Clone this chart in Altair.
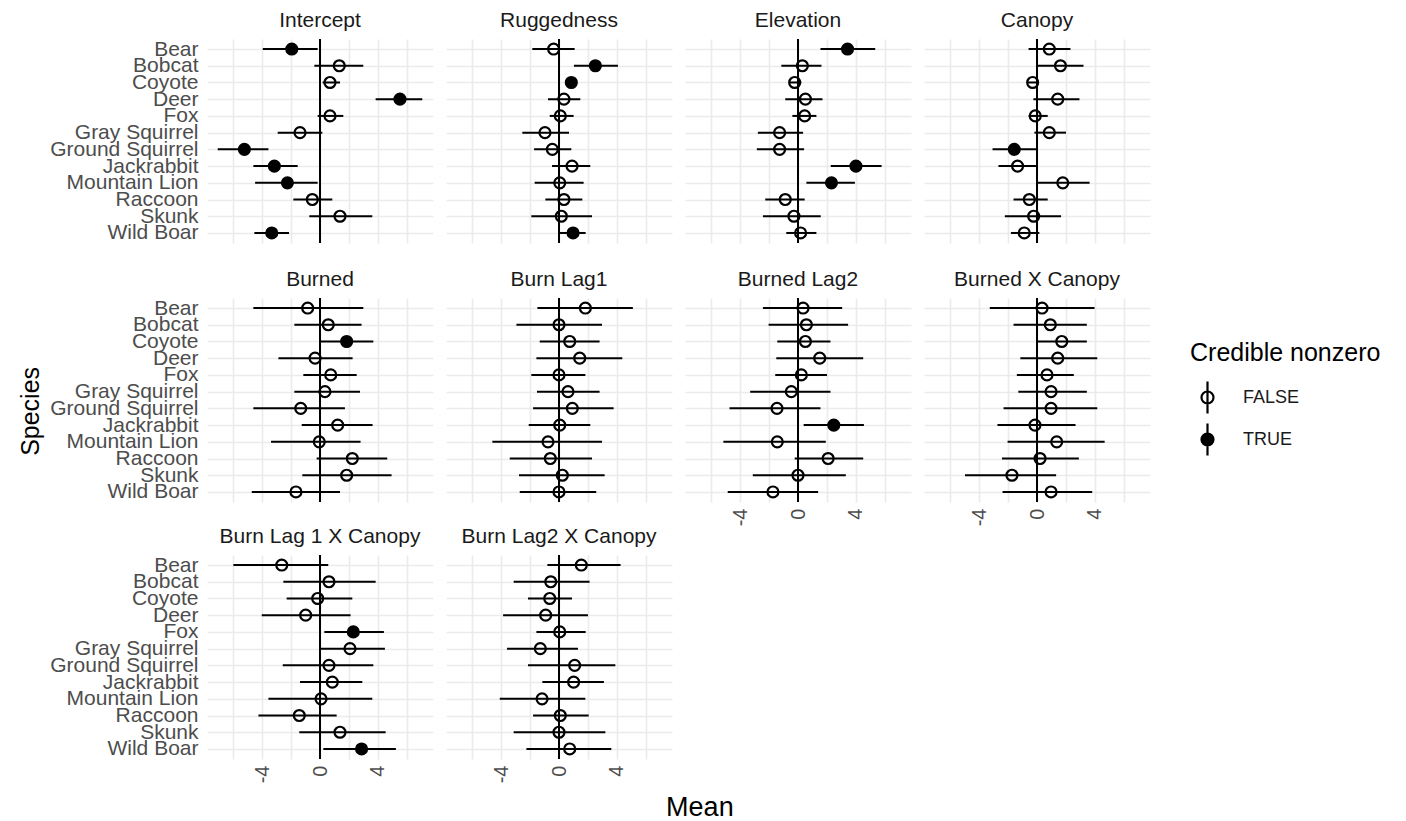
import altair as alt
import pandas as pd

SPECIES = ["Bear", "Bobcat", "Coyote", "Deer", "Fox", "Gray Squirrel", "Ground Squirrel",
           "Jackrabbit", "Mountain Lion", "Raccoon", "Skunk", "Wild Boar"]

TERMS = ["Intercept", "Ruggedness", "Elevation", "Canopy", "Burned", "Burn Lag1",
         "Burned Lag2", "Burned X Canopy", "Burn Lag 1 X Canopy", "Burn Lag2 X Canopy"]

# mean, lower, upper per term (order follows SPECIES)
INTERCEPT_MEAN = [-1.95, 1.33, 0.69, 5.52, 0.69, -1.38, -5.22, -3.15, -2.25, -0.53, 1.38, -3.33]
INTERCEPT_LO = [-3.95, -0.39, 0.18, 3.84, -0.16, -2.92, -7.06, -4.60, -4.48, -1.84, -0.74, -4.53]
INTERCEPT_HI = [-0.16, 2.99, 1.38, 7.06, 1.61, 0.16, -3.56, -1.54, -0.16, 0.85, 3.61, -2.14]

RUGGED_MEAN = [-0.37, 2.51, 0.85, 0.34, 0.09, -0.97, -0.46, 0.90, 0.05, 0.34, 0.16, 0.97]
RUGGED_LO = [-1.84, 1.03, 0.62, -0.76, -0.64, -2.53, -1.72, -0.48, -1.68, -0.94, -1.91, 0.05]
RUGGED_HI = [1.08, 4.07, 1.08, 1.47, 1.01, 0.69, 0.85, 2.16, 1.70, 1.61, 2.28, 1.84]

ELEV_MEAN = [3.42, 0.30, -0.23, 0.51, 0.46, -1.27, -1.27, 4.00, 2.31, -0.88, -0.28, 0.18]
ELEV_LO = [1.55, -1.15, -0.58, -0.88, -0.39, -2.77, -2.84, 2.26, 0.58, -2.26, -2.42, -0.81]
ELEV_HI = [5.33, 1.62, 0.23, 1.69, 1.27, 0.35, 0.42, 5.77, 3.93, 0.46, 1.57, 1.27]

CANOPY_MEAN = [0.85, 1.62, -0.30, 1.43, -0.12, 0.85, -1.57, -1.34, 1.78, -0.53, -0.23, -0.88]
CANOPY_LO = [-0.58, -0.02, -0.65, -0.25, -0.58, -0.18, -3.07, -2.66, -0.02, -1.62, -2.22, -1.80]
CANOPY_HI = [2.31, 3.21, 0.09, 2.93, 0.74, 2.00, -0.05, 0.03, 3.63, 0.74, 1.66, 0.16]

BURNED_MEAN = [-0.85, 0.57, 1.84, -0.34, 0.74, 0.34, -1.33, 1.22, -0.05, 2.23, 1.84, -1.66]
BURNED_LO = [-4.60, -1.77, 0.04, -2.87, -1.15, -1.77, -4.60, -1.26, -3.38, -0.23, -1.22, -4.71]
BURNED_HI = [2.99, 2.87, 3.68, 2.25, 2.53, 2.76, 1.72, 3.63, 2.80, 4.64, 4.94, 1.38]

LAG1_MEAN = [1.82, 0.00, 0.74, 1.43, 0.00, 0.62, 0.92, 0.05, -0.76, -0.60, 0.23, 0.00]
LAG1_LO = [-1.49, -2.94, -1.33, -1.56, -1.91, -1.52, -1.79, -2.09, -4.60, -3.40, -2.76, -2.71]
LAG1_HI = [5.10, 2.97, 2.80, 4.37, 1.82, 2.80, 3.77, 2.16, 2.97, 2.28, 3.15, 2.57]

LAG2_MEAN = [0.35, 0.58, 0.51, 1.50, 0.23, -0.46, -1.45, 2.47, -1.43, 2.08, 0.00, -1.73]
LAG2_LO = [-2.42, -2.03, -1.43, -1.50, -1.57, -3.30, -4.73, 0.39, -5.15, -0.23, -3.12, -4.85]
LAG2_HI = [3.05, 3.46, 2.24, 4.50, 2.00, 2.24, 1.55, 4.55, 1.92, 4.50, 3.30, 1.39]

BXC_MEAN = [0.35, 0.92, 1.71, 1.43, 0.69, 0.97, 0.97, -0.14, 1.36, 0.21, -1.73, 0.97]
BXC_LO = [-3.26, -1.62, -0.02, -1.15, -1.39, -1.29, -2.31, -2.73, -2.03, -2.42, -4.97, -2.38]
BXC_HI = [3.97, 3.44, 3.44, 4.16, 2.54, 3.44, 4.16, 2.66, 4.67, 2.89, 1.32, 3.81]

L1XC_MEAN = [-2.64, 0.62, -0.16, -0.99, 2.30, 2.07, 0.62, 0.85, 0.07, -1.43, 1.38, 2.87]
L1XC_LO = [-5.98, -2.53, -2.30, -4.02, 0.30, -0.07, -2.57, -1.38, -3.56, -4.25, -1.43, 0.23]
L1XC_HI = [0.57, 3.84, 2.23, 2.11, 4.41, 4.48, 3.68, 2.92, 3.61, 1.15, 4.53, 5.24]

L2XC_MEAN = [1.54, -0.57, -0.64, -0.92, 0.05, -1.29, 1.08, 1.01, -1.17, 0.09, 0.00, 0.74]
L2XC_LO = [-0.80, -3.13, -2.14, -3.86, -1.56, -3.59, -2.14, -1.15, -4.09, -1.79, -3.13, -2.25]
L2XC_HI = [4.25, 2.11, 0.90, 2.00, 1.84, 1.31, 3.89, 3.10, 1.82, 2.05, 3.20, 3.61]

# species whose interval is credibly nonzero, per term
CREDIBLE = {
    "Intercept": ["Bear", "Deer", "Ground Squirrel", "Jackrabbit", "Mountain Lion", "Wild Boar"],
    "Ruggedness": ["Bobcat", "Coyote", "Wild Boar"],
    "Elevation": ["Bear", "Jackrabbit", "Mountain Lion"],
    "Canopy": ["Ground Squirrel"],
    "Burned": ["Coyote"],
    "Burn Lag1": [],
    "Burned Lag2": ["Jackrabbit"],
    "Burned X Canopy": [],
    "Burn Lag 1 X Canopy": ["Fox", "Wild Boar"],
    "Burn Lag2 X Canopy": [],
}

SERIES = {
    "Intercept": (INTERCEPT_MEAN, INTERCEPT_LO, INTERCEPT_HI),
    "Ruggedness": (RUGGED_MEAN, RUGGED_LO, RUGGED_HI),
    "Elevation": (ELEV_MEAN, ELEV_LO, ELEV_HI),
    "Canopy": (CANOPY_MEAN, CANOPY_LO, CANOPY_HI),
    "Burned": (BURNED_MEAN, BURNED_LO, BURNED_HI),
    "Burn Lag1": (LAG1_MEAN, LAG1_LO, LAG1_HI),
    "Burned Lag2": (LAG2_MEAN, LAG2_LO, LAG2_HI),
    "Burned X Canopy": (BXC_MEAN, BXC_LO, BXC_HI),
    "Burn Lag 1 X Canopy": (L1XC_MEAN, L1XC_LO, L1XC_HI),
    "Burn Lag2 X Canopy": (L2XC_MEAN, L2XC_LO, L2XC_HI),
}

rows = []
for term in TERMS:
    m, lo, hi = SERIES[term]
    for i, sp in enumerate(SPECIES):
        rows.append({
            "term": term, "species": sp, "mean": m[i], "lo": lo[i], "hi": hi[i],
            "cred": "TRUE" if sp in CREDIBLE[term] else "FALSE",
        })
df = pd.DataFrame(rows)

FONT = "Liberation Sans"
GRID_VALUES = [-6, -4, -2, 0, 2, 4, 6]
X_DOMAIN = [-7.8, 7.8]
PANEL_W, PANEL_H = 226, 204
LEGEND_PATH = "M0,-1L0,1M-0.375,0A0.375,0.375 0 1,0 0.375,0A0.375,0.375 0 1,0 -0.375,0Z"


def x_axis(show_labels):
    kw = dict(values=GRID_VALUES, title=None, ticks=False, domain=False, grid=True,
              gridColor="#EBEBEB", gridWidth=1.6, gridOpacity=1)
    if show_labels:
        kw.update(labels=True, labelAngle=270, labelFontSize=20, labelColor="#4D4D4D",
                  labelPadding=6, labelFont=FONT,
                  labelExpr="datum.value % 4 == 0 ? toString(datum.value) : ''")
    else:
        kw.update(labels=False)
    return alt.Axis(**kw)


def y_axis(show_labels):
    kw = dict(title=None, ticks=False, domain=False, grid=True, gridColor="#EBEBEB",
              gridWidth=1.6, gridOpacity=1)
    if show_labels:
        kw.update(labels=True, labelFontSize=21, labelColor="#4D4D4D", labelPadding=9,
                  labelFont=FONT)
    else:
        kw.update(labels=False)
    return alt.Axis(**kw)


def panel(term, left, bottom):
    xs = alt.Scale(domain=X_DOMAIN, nice=False, zero=False)
    ys = alt.Scale(type="point", padding=0.6, domain=SPECIES)
    base = alt.Chart(df).transform_filter(alt.datum.term == term)

    zero = base.transform_filter(alt.datum.species == "Bear").transform_calculate(
        zero="0"
    ).mark_rule(color="black", strokeWidth=2).encode(
        x=alt.X("zero:Q", scale=xs, axis=x_axis(bottom)),
    )
    bars = base.mark_rule(color="black", strokeWidth=2).encode(
        x=alt.X("lo:Q", scale=xs, axis=x_axis(bottom)),
        x2="hi:Q",
        y=alt.Y("species:N", sort=SPECIES, scale=ys, axis=y_axis(left)),
    )
    points = base.mark_point(shape="circle", size=120, strokeWidth=2.2, stroke="black",
                             opacity=1, fillOpacity=1).encode(
        x=alt.X("mean:Q", scale=xs, axis=x_axis(bottom)),
        y=alt.Y("species:N", sort=SPECIES, scale=ys, axis=y_axis(left)),
        fill=alt.Fill(
            "cred:N",
            scale=alt.Scale(domain=["FALSE", "TRUE"], range=["transparent", "black"]),
            legend=alt.Legend(
                title="Credible nonzero", orient="none", legendX=983, legendY=302,
                symbolType=LEGEND_PATH, symbolSize=1024, symbolStrokeColor="black",
                symbolStrokeWidth=2.2, symbolOpacity=1, labelFontSize=18,
                labelColor="#1A1A1A", titleFontSize=25, titleFontWeight="normal",
                titleColor="black", titlePadding=14, rowPadding=1, labelOffset=18,
                labelFont=FONT, titleFont=FONT, titleLimit=400, labelLimit=300,
            ),
        ),
    )
    return alt.layer(zero, bars, points).properties(
        width=PANEL_W, height=PANEL_H,
        title=alt.TitleParams(term, fontSize=21, fontWeight="normal", color="#1A1A1A",
                              font=FONT, anchor="middle", offset=7),
    )


row1 = alt.hconcat(panel("Intercept", True, False), panel("Ruggedness", False, False),
                   panel("Elevation", False, False), panel("Canopy", False, False),
                   spacing=13)
row2 = alt.hconcat(panel("Burned", True, False), panel("Burn Lag1", False, False),
                   panel("Burned Lag2", False, True), panel("Burned X Canopy", False, True),
                   spacing=13)
row3 = alt.hconcat(panel("Burn Lag 1 X Canopy", True, True),
                   panel("Burn Lag2 X Canopy", False, True),
                   spacing=13)

top_rows = alt.vconcat(row1, row2, spacing=25)

grid = alt.vconcat(top_rows, row3, spacing=0).properties(
    title=alt.TitleParams("Species", orient="left", anchor="middle", fontSize=25,
                          fontWeight="normal", color="black", font=FONT, offset=6, dx=-15)
)

chart = alt.vconcat(grid).properties(
    title=alt.TitleParams("Mean", orient="bottom", anchor="middle", fontSize=27,
                          fontWeight="normal", color="black", font=FONT, offset=12)
).configure(
    background="white", padding={"left": 18, "top": 10, "right": 5, "bottom": 5},
    view=alt.ViewConfig(strokeWidth=0, stroke="transparent"),
)

chart.save("out.html", embed_options={"renderer": "svg", "actions": False})
